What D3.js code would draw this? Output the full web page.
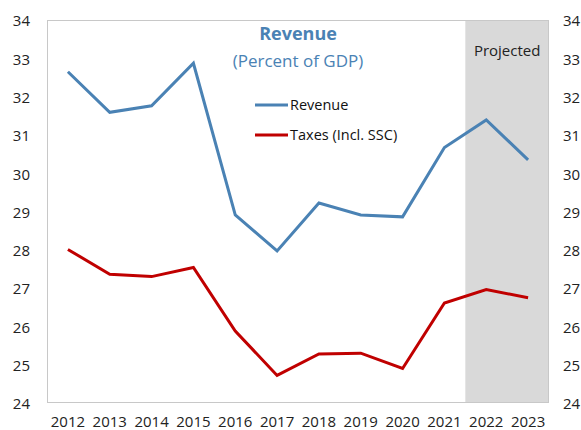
<!DOCTYPE html>
<html>
<head>
<meta charset="utf-8">
<script src="https://cdn.jsdelivr.net/npm/d3@7"></script>
<style>
  html, body { margin: 0; padding: 0; background: #fff; }
  svg { display: block; font-family: "Open Sans", "Noto Sans", sans-serif; }
</style>
</head>
<body>
<svg id="chart" width="581" height="430"></svg>
<script>
// Revenue and tax intake, percent of GDP
const years = ["2012","2013","2014","2015","2016","2017","2018","2019","2020","2021","2022","2023"];
const revenue = [32.65, 31.59, 31.76, 32.87, 28.91, 27.97, 29.22, 28.91, 28.86, 30.67, 31.39, 30.35];
const taxes   = [28.01, 27.36, 27.30, 27.54, 25.88, 24.72, 25.28, 25.30, 24.90, 26.61, 26.96, 26.75];
const projectedYears = ["2022","2023"];
const yTicks = [24, 25, 26, 27, 28, 29, 30, 31, 32, 33, 34];

const seriesNames = ["Revenue", "Taxes (Incl. SSC)"];
const seriesColors = ["#4a82b4", "#c00000"];

const svg = d3.select("#chart");
const plotL = 47, plotR = 549, plotT = 20, plotB = 403;

const x = d3.scaleBand().domain(years).range([plotL, plotR]).padding(0);
const y = d3.scaleLinear().domain([24, 34]).range([plotB, plotT]);
const cx = d => x(d) + x.bandwidth() / 2;

// projection shading
svg.append("rect")
  .attr("x", x(projectedYears[0]))
  .attr("y", plotT)
  .attr("width", x(projectedYears[projectedYears.length - 1]) + x.bandwidth() - x(projectedYears[0]))
  .attr("height", plotB - plotT)
  .attr("fill", "#d9d9d9");

// plot frame
svg.append("rect")
  .attr("x", plotL + 0.5).attr("y", plotT + 0.5)
  .attr("width", plotR - plotL - 1).attr("height", plotB - plotT - 1)
  .attr("fill", "none").attr("stroke", "#c8c8c8").attr("stroke-width", 1);

svg.append("text")
  .attr("x", cx("2022") + x.bandwidth() / 2).attr("y", 56)
  .attr("text-anchor", "middle").attr("font-size", 15).attr("fill", "#222")
  .text("Projected");

// axes (labels only)
const axisLeft = d3.axisLeft(y).tickValues(yTicks).tickSize(0).tickPadding(17);
const axisRight = d3.axisRight(y).tickValues(yTicks).tickSize(0).tickPadding(14);
const axisBottom = d3.axisBottom(x).tickSize(0).tickPadding(13);

function styleAxis(g) {
  g.select(".domain").remove();
  g.selectAll("text").attr("font-size", 15).attr("fill", "#222")
    .attr("font-family", "'Open Sans', 'Noto Sans', sans-serif");
}
svg.append("g").attr("transform", `translate(${plotL},1)`).call(axisLeft).call(styleAxis);
svg.append("g").attr("transform", `translate(${plotR},1)`).call(axisRight).call(styleAxis);
svg.append("g").attr("transform", `translate(0,${plotB})`).call(axisBottom).call(styleAxis);

// series lines
const line = d3.line().x((d, i) => cx(years[i])).y(d => y(d));
[revenue, taxes].forEach((vals, k) => {
  svg.append("path")
    .datum(vals)
    .attr("d", line)
    .attr("fill", "none")
    .attr("stroke", seriesColors[k])
    .attr("stroke-width", 3)
    .attr("stroke-linejoin", "miter");
});

// title
svg.append("text")
  .attr("x", 298).attr("y", 40)
  .attr("text-anchor", "middle").attr("font-size", 18).attr("font-weight", "bold")
  .attr("fill", "#4a82b4")
  .text("Revenue");
svg.append("text")
  .attr("x", 298).attr("y", 67)
  .attr("text-anchor", "middle").attr("font-size", 17)
  .attr("fill", "#4a82b4")
  .text("(Percent of GDP)");

// legend
const legend = svg.append("g").attr("transform", "translate(255,105)");
seriesNames.forEach((name, k) => {
  const g = legend.append("g").attr("transform", `translate(0,${k * 30})`);
  g.append("line").attr("x1", 0).attr("x2", 33).attr("y1", 0).attr("y2", 0)
    .attr("stroke", seriesColors[k]).attr("stroke-width", 3);
  g.append("text").attr("x", 35).attr("y", 5)
    .attr("font-size", 14.5).attr("fill", "#111").text(name);
});
</script>
</body>
</html>
